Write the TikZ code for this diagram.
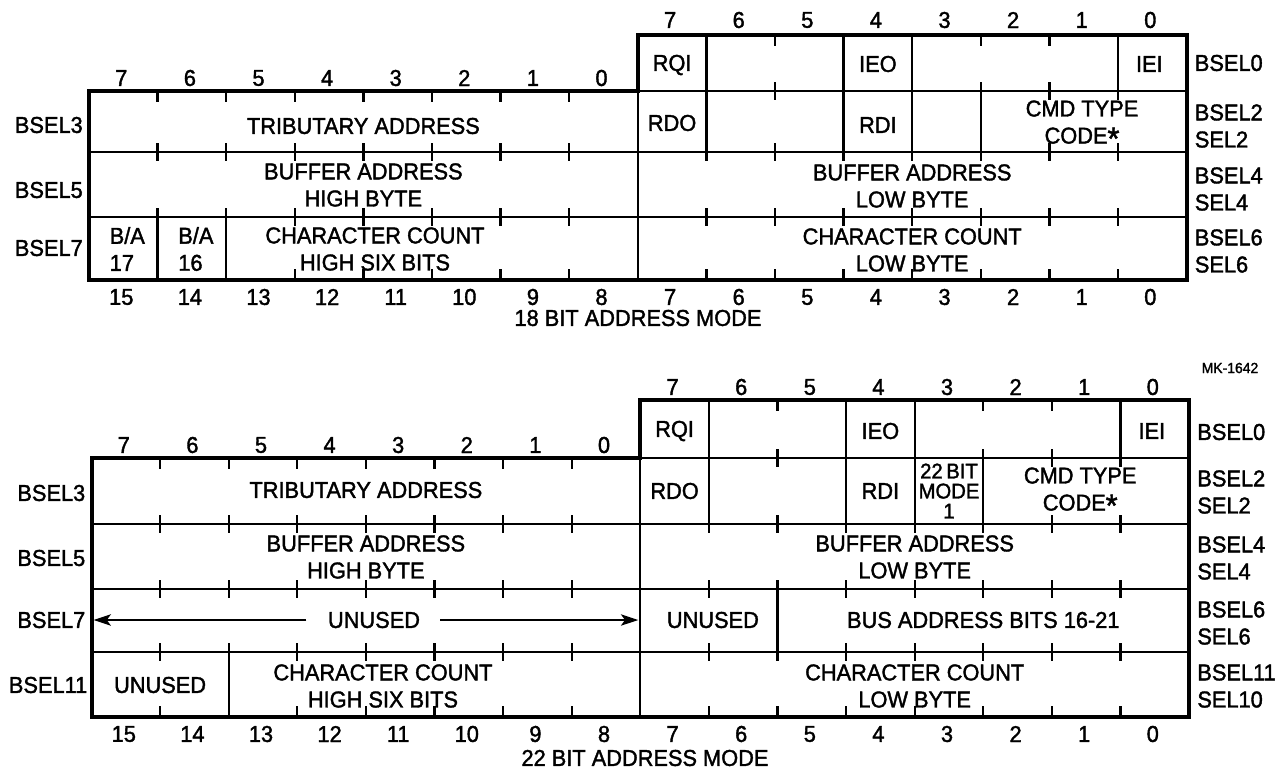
\documentclass[tikz,border=0pt]{standalone}
\usepackage{fontspec}
\setmainfont{Liberation Sans}[FakeStretch=0.95,FakeBold=1.6]
\usetikzlibrary{arrows.meta}
\newcommand{\bigast}{\raisebox{-4.5pt}{\fontsize{24}{24}\selectfont *}}
\begin{document}
\begin{tikzpicture}[x=0.75pt,y=-0.75pt,
  txt/.style={font=\fontsize{17.2}{20.3}\selectfont, inner sep=0pt, align=center},
  tight/.style={font=\fontsize{16}{15}\selectfont, inner sep=0pt, align=center},
  small/.style={font=\fontsize{11}{12}\selectfont, inner sep=0pt},
  sidelbl/.style={txt, anchor=west, align=left},
  leftlbl/.style={txt, anchor=east},
  border/.style={line width=3pt, line join=miter},
  rowline/.style={line width=2.2pt},
  divider/.style={line width=1.7pt},
  tickmark/.style={line width=1.7pt},
  arr/.style={line width=1.5pt, -{Stealth[length=13pt,width=8.5pt,inset=3pt]}}]
\useasboundingbox (0,0) rectangle (1278,769);

% ================= 18 BIT ADDRESS MODE =================
\def\L{89}\def\W{68.6}
\def\ya{35}\def\yb{91}\def\yc{152}\def\yd{217}\def\ye{280}
% lines
\draw[rowline] ({\L+8*\W},\yb) -- ({\L+16*\W},\yb);
\draw[rowline] (\L,\yc) -- ({\L+16*\W},\yc);
\draw[rowline] (\L,\yd) -- ({\L+16*\W},\yd);
\draw[divider] ({\L+8*\W},\yb) -- ({\L+8*\W},\ye);
\foreach \i in {9,11,12,15} \draw[divider] ({\L+\i*\W},\ya) -- ({\L+\i*\W},\yb);
\foreach \i in {9,11,12,13} \draw[divider] ({\L+\i*\W},\yb) -- ({\L+\i*\W},\yc);
\foreach \i in {1,2} \draw[divider] ({\L+\i*\W},\yd) -- ({\L+\i*\W},\ye);
% ticks
\foreach \i in {1,...,7} \draw[tickmark] ({\L+\i*\W},\yb) -- ++(0,11);
\foreach \i in {9,...,15} \draw[tickmark] ({\L+\i*\W},\ya) -- ++(0,11);
\foreach \i in {9,...,15} \draw[tickmark] ({\L+\i*\W},{\yb-9}) -- ++(0,18);
\foreach \yy in {\yc,\yd} \foreach \i in {1,2,3,4,5,6,7,9,10,11,12,13,14,15}
  \draw[tickmark] ({\L+\i*\W},{\yy-9}) -- ++(0,18);
\foreach \i in {1,2,3,4,5,6,7,9,10,11,12,13,14,15} \draw[tickmark] ({\L+\i*\W},\ye) -- ++(0,-11);
\draw[border] (\L,\yb) -- ({\L+8*\W},\yb) -- ({\L+8*\W},\ya) -- ({\L+16*\W},\ya)
  -- ({\L+16*\W},\ye) -- (\L,\ye) -- cycle;
% bit numbers
\foreach \i [evaluate=\i as \b using {int(7-\i)}] in {0,...,7}
  \node[txt] (atl\i) at ({\L+(\i+0.5)*\W-2},78) {\b};
\foreach \i [evaluate=\i as \b using {int(15-\i)}] in {8,...,15}
  \node[txt] (atr\i) at ({\L+(\i+0.5)*\W-2},20) {\b};
\foreach \i [evaluate=\i as \b using {int(15-\i)}] in {0,...,15}
  \node[txt] (ab\i) at ({\L+(\i+0.5)*\W-2},297) {\b};
\node[txt] (amode) at (638,318) {18 BIT ADDRESS MODE};
% cell texts
\node[txt] (arqi) at ({\L+8.5*\W},65) {RQI};
\node[txt] (aieo) at ({\L+11.5*\W},64) {IEO};
\node[txt] (aiei) at ({\L+15.5*\W-3},64) {IEI};
\node[txt] (atrib) at ({\L+4*\W},126) {TRIBUTARY ADDRESS};
\node[txt] (ardo) at ({\L+8.5*\W},123) {RDO};
\node[txt] (ardi) at ({\L+11.5*\W},125) {RDI};
\node[txt] (acmd) at (1082,125) {CMD TYPE\\CODE\bigast};
\node[txt] (abufh) at ({\L+4*\W},185) {BUFFER ADDRESS\\HIGH BYTE};
\node[txt] (abufl) at ({\L+12*\W},186) {BUFFER ADDRESS\\LOW BYTE};
\node[txt, align=left] (aba17) at ({\L+0.5*\W+4},249) {B/A\\17};
\node[txt, align=left] (aba16) at ({\L+1.5*\W+4},249) {B/A\\16};
\node[txt] (acch) at (375,249) {CHARACTER COUNT\\HIGH SIX BITS};
\node[txt] (accl) at ({\L+12*\W},250) {CHARACTER COUNT\\LOW BYTE};
% side labels
\node[leftlbl] (absel3) at ({\L-6},125) {BSEL3};
\node[leftlbl] (absel5) at ({\L-6},190) {BSEL5};
\node[leftlbl] (absel7) at ({\L-6},248) {BSEL7};
\node[sidelbl] (absel0) at ({\L+16*\W+8},63) {BSEL0};
\node[sidelbl] (absel2) at ({\L+16*\W+8},126) {BSEL2\\SEL2};
\node[sidelbl] (absel4) at ({\L+16*\W+8},189) {BSEL4\\SEL4};
\node[sidelbl] (absel6) at ({\L+16*\W+8},251) {BSEL6\\SEL6};

\node[small] (mk) at (1230,368) {MK-1642};

% ================= 22 BIT ADDRESS MODE =================
\def\L{91.5}
\def\ya{400}\def\yb{458}\def\yc{524}\def\yd{589}\def\ye{652}\def\yf{717}
\draw[rowline] ({\L+8*\W},\yb) -- ({\L+16*\W},\yb);
\foreach \yy in {\yc,\yd,\ye} \draw[rowline] (\L,\yy) -- ({\L+16*\W},\yy);
\draw[divider] ({\L+8*\W},\yb) -- ({\L+8*\W},\yf);
\foreach \i in {9,11,12,15} \draw[divider] ({\L+\i*\W},\ya) -- ({\L+\i*\W},\yb);
\foreach \i in {9,11,12,13} \draw[divider] ({\L+\i*\W},\yb) -- ({\L+\i*\W},\yc);
\draw[divider] ({\L+10*\W},\yd) -- ({\L+10*\W},\ye);
\draw[divider] ({\L+2*\W},\ye) -- ({\L+2*\W},\yf);
% ticks
\foreach \i in {1,...,7} \draw[tickmark] ({\L+\i*\W},\yb) -- ++(0,11);
\foreach \i in {9,...,15} \draw[tickmark] ({\L+\i*\W},\ya) -- ++(0,11);
\foreach \i in {9,...,15} \draw[tickmark] ({\L+\i*\W},{\yb-9}) -- ++(0,18);
\foreach \yy in {\yc,\yd,\ye} \foreach \i in {1,2,3,4,5,6,7,9,10,11,12,13,14,15}
  \draw[tickmark] ({\L+\i*\W},{\yy-9}) -- ++(0,18);
\foreach \i in {1,2,3,4,5,6,7,9,10,11,12,13,14,15} \draw[tickmark] ({\L+\i*\W},\yf) -- ++(0,-11);
\draw[border] (\L,\yb) -- ({\L+8*\W},\yb) -- ({\L+8*\W},\ya) -- ({\L+16*\W},\ya)
  -- ({\L+16*\W},\yf) -- (\L,\yf) -- cycle;
% bit numbers
\foreach \i [evaluate=\i as \b using {int(7-\i)}] in {0,...,7}
  \node[txt] (btl\i) at ({\L+(\i+0.5)*\W-2},445) {\b};
\foreach \i [evaluate=\i as \b using {int(15-\i)}] in {8,...,15}
  \node[txt] (btr\i) at ({\L+(\i+0.5)*\W-2},387) {\b};
\foreach \i [evaluate=\i as \b using {int(15-\i)}] in {0,...,15}
  \node[txt] (bb\i) at ({\L+(\i+0.5)*\W-2},734) {\b};
\node[txt] (bmode) at (645,758) {22 BIT ADDRESS MODE};
% cell texts
\node[txt] (brqi) at ({\L+8.5*\W},431) {RQI};
\node[txt] (bieo) at ({\L+11.5*\W},431) {IEO};
\node[txt] (biei) at ({\L+15.5*\W-3},431) {IEI};
\node[txt] (btrib) at ({\L+4*\W},490) {TRIBUTARY ADDRESS};
\node[txt] (brdo) at ({\L+8.5*\W},491) {RDO};
\node[txt] (brdi) at ({\L+11.5*\W},491) {RDI};
\node[tight] (b22) at ({\L+12.5*\W},491) {22\,BIT\\MODE\\1};
\node[txt] (bcmd) at ({\L+14.5*\W-6},492) {CMD TYPE\\CODE\bigast};
\node[txt] (bbufh) at ({\L+4*\W},557) {BUFFER ADDRESS\\HIGH BYTE};
\node[txt] (bbufl) at ({\L+12*\W},557) {BUFFER ADDRESS\\LOW BYTE};
\node[txt] (bun7) at (374,620) {UNUSED};
\coordinate (bun7l) at ({\L+2},620);
\coordinate (bun7r) at ({\L+8*\W-2},620);
\draw[arr] ([xshift=-16pt]bun7.west) -- (bun7l);
\draw[arr] ([xshift=15pt]bun7.east) -- (bun7r);
\node[txt] (bun6) at ({\L+9*\W+4},620) {UNUSED};
\node[txt] (bbus) at ({\L+13*\W},620) {BUS ADDRESS BITS 16-21};
\node[txt] (bun11) at ({\L+1*\W},685) {UNUSED};
\node[txt] (bcch) at (383,686) {CHARACTER COUNT\\HIGH SIX BITS};
\node[txt] (bccl) at ({\L+12*\W},686) {CHARACTER COUNT\\LOW BYTE};
% side labels
\node[leftlbl] (bbsel3) at ({\L-6},493) {BSEL3};
\node[leftlbl] (bbsel5) at ({\L-6},558) {BSEL5};
\node[leftlbl] (bbsel7) at ({\L-6},620) {BSEL7};
\node[leftlbl] (bbsel11) at ({\L-4},685) {BSEL11};
\node[sidelbl] (bbsel0) at ({\L+16*\W+8},432) {BSEL0};
\node[sidelbl] (bbsel2) at ({\L+16*\W+8},492) {BSEL2\\SEL2};
\node[sidelbl] (bbsel4) at ({\L+16*\W+8},558) {BSEL4\\SEL4};
\node[sidelbl] (bbsel6) at ({\L+16*\W+8},623) {BSEL6\\SEL6};
\node[sidelbl] (bbsel11) at ({\L+16*\W+8},686) {BSEL11\\SEL10};
\end{tikzpicture}
\end{document}
